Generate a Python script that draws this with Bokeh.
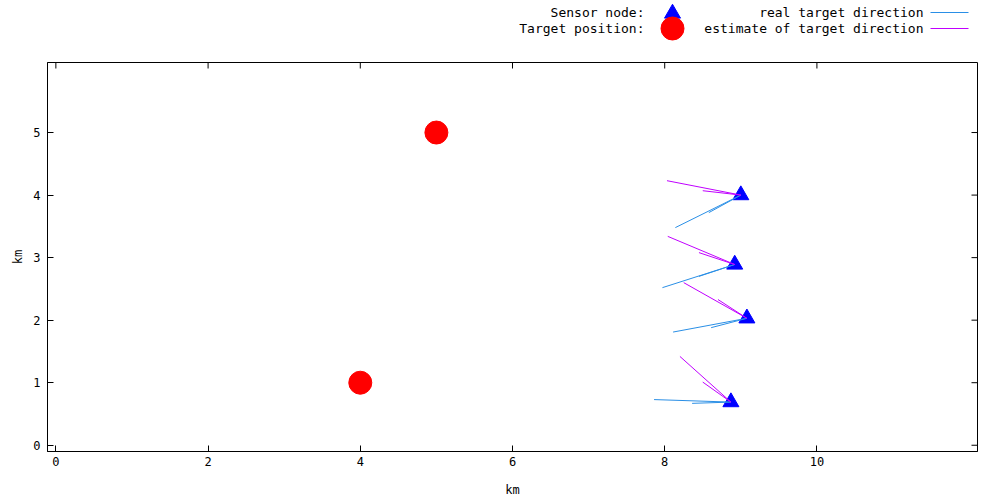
import math
from bokeh.plotting import figure
from bokeh.models import Range1d, FixedTicker
from bokeh.layouts import column
from bokeh.embed import file_html
from bokeh.resources import INLINE
from bokeh.core.properties import value

# ---------------- data ----------------
sensor_x = [9.00, 8.92, 9.08, 8.87]
sensor_y = [4.00, 2.89, 2.03, 0.69]

target_x = [5.0, 4.0]
target_y = [5.0, 1.0]

# end points of the "real target direction" segments (two per sensor node)
real_end_x = [[8.14, 8.58], [7.97, 8.45], [8.11, 8.61], [7.86, 8.36]]
real_end_y = [[3.48, 3.72], [2.52, 2.70], [1.81, 1.88], [0.73, 0.67]]

# end points of the "estimate of target direction" segments (two per sensor node)
est_end_x = [[8.03, 8.50], [8.04, 8.45], [8.25, 8.70], [8.20, 8.50]]
est_end_y = [[4.23, 4.07], [3.34, 3.08], [2.60, 2.33], [1.42, 1.01]]

x_ticks = [0, 2, 4, 6, 8, 10]
y_ticks = [0, 1, 2, 3, 4, 5]

legend_left_labels = ["Sensor node:", "Target position:"]
legend_right_labels = ["real target direction", "estimate of target direction"]

# ---------------- style ----------------
FONT = "DejaVu Sans Mono"
BLUE_LINE = "#2a8fe6"
MAGENTA_LINE = "#c000ff"
TRI_COLOR = "#0000ff"
CIRCLE_COLOR = "#ff0000"

X_MIN, X_MAX = -0.11, 12.11
Y_MIN, Y_MAX = -0.1, 6.12
BORDER_L, BORDER_R = 47, 23


def segs(xs, ys, ex, ey):
    x0, y0, x1, y1 = [], [], [], []
    for i in range(len(xs)):
        for j in range(len(ex[i])):
            x0.append(xs[i]); y0.append(ys[i])
            x1.append(ex[i][j]); y1.append(ey[i][j])
    return x0, y0, x1, y1


# ---------------- legend strip (pixel coordinates of the page) ----------------
lg = figure(width=1000, height=55, x_range=Range1d(BORDER_L, 1000 - BORDER_R), y_range=Range1d(55, 0),
            output_backend="svg", toolbar_location=None,
            min_border_left=BORDER_L, min_border_right=BORDER_R, min_border_top=0, min_border_bottom=0,
            x_axis_type=None, y_axis_type=None)
lg.grid.visible = False
lg.outline_line_color = None
lg.background_fill_color = "white"
lg.border_fill_color = "white"

lg_rows = [12, 28]
lg.text(x=[644, 644], y=lg_rows, text=legend_left_labels, text_align="right",
        text_baseline="middle", text_font=value(FONT), text_font_size="13px", text_color="black")
lg.text(x=[923, 923], y=lg_rows, text=legend_right_labels, text_align="right",
        text_baseline="middle", text_font=value(FONT), text_font_size="13px", text_color="black")
lg.scatter(x=[672], y=[13], marker="triangle", size=16, fill_color=TRI_COLOR, line_color=TRI_COLOR)
lg.scatter(x=[672], y=[28], marker="circle", size=23, fill_color=CIRCLE_COLOR, line_color=CIRCLE_COLOR)
lg.segment(x0=[930], y0=[12], x1=[968], y1=[12], line_color=BLUE_LINE, line_width=1)
lg.segment(x0=[930], y0=[28], x1=[968], y1=[28], line_color=MAGENTA_LINE, line_width=1)

# ---------------- main plot ----------------
p = figure(width=1000, height=445, x_range=Range1d(X_MIN, X_MAX), y_range=Range1d(Y_MIN, Y_MAX),
           output_backend="svg", toolbar_location=None,
           min_border_left=BORDER_L, min_border_right=BORDER_R, min_border_top=7, min_border_bottom=49)
p.grid.visible = False
p.outline_line_color = "black"
p.outline_line_width = 1
p.background_fill_color = "white"
p.border_fill_color = "white"

for ax, ticks in ((p.xaxis[0], x_ticks), (p.yaxis[0], y_ticks)):
    ax.ticker = FixedTicker(ticks=ticks)
    ax.major_tick_in = 6
    ax.major_tick_out = 0
    ax.minor_tick_in = 0
    ax.minor_tick_out = 0
    ax.axis_line_color = "black"
    ax.major_tick_line_color = "black"
    ax.major_label_text_font = FONT
    ax.major_label_text_font_size = "12px"
    ax.major_label_text_color = "black"
    ax.axis_label = "km"
    ax.axis_label_text_font = FONT
    ax.axis_label_text_font_size = "12px"
    ax.axis_label_text_font_style = "normal"
    ax.axis_label_text_color = "black"

p.xaxis[0].major_label_standoff = 5
p.xaxis[0].axis_label_standoff = 14
p.yaxis[0].major_label_standoff = 7
p.yaxis[0].axis_label_standoff = 5

# mirrored inward ticks on the top and right borders (half of a dash is clipped by the frame)
p.scatter(x=x_ticks, y=[Y_MAX] * len(x_ticks), marker="dash", angle=math.pi / 2, size=12,
          line_color="black", line_width=1)
p.scatter(x=[X_MAX] * len(y_ticks), y=y_ticks, marker="dash", size=12,
          line_color="black", line_width=1)

p.scatter(x=sensor_x, y=sensor_y, marker="triangle", size=16,
          fill_color=TRI_COLOR, line_color=TRI_COLOR)
p.scatter(x=target_x, y=target_y, marker="circle", size=23,
          fill_color=CIRCLE_COLOR, line_color=CIRCLE_COLOR)

rx0, ry0, rx1, ry1 = segs(sensor_x, sensor_y, real_end_x, real_end_y)
p.segment(x0=rx0, y0=ry0, x1=rx1, y1=ry1, line_color=BLUE_LINE, line_width=1)
ex0, ey0, ex1, ey1 = segs(sensor_x, sensor_y, est_end_x, est_end_y)
p.segment(x0=ex0, y0=ey0, x1=ex1, y1=ey1, line_color=MAGENTA_LINE, line_width=1)

layout = column(lg, p, spacing=0)
open("out.html", "w").write(file_html(layout, INLINE))
